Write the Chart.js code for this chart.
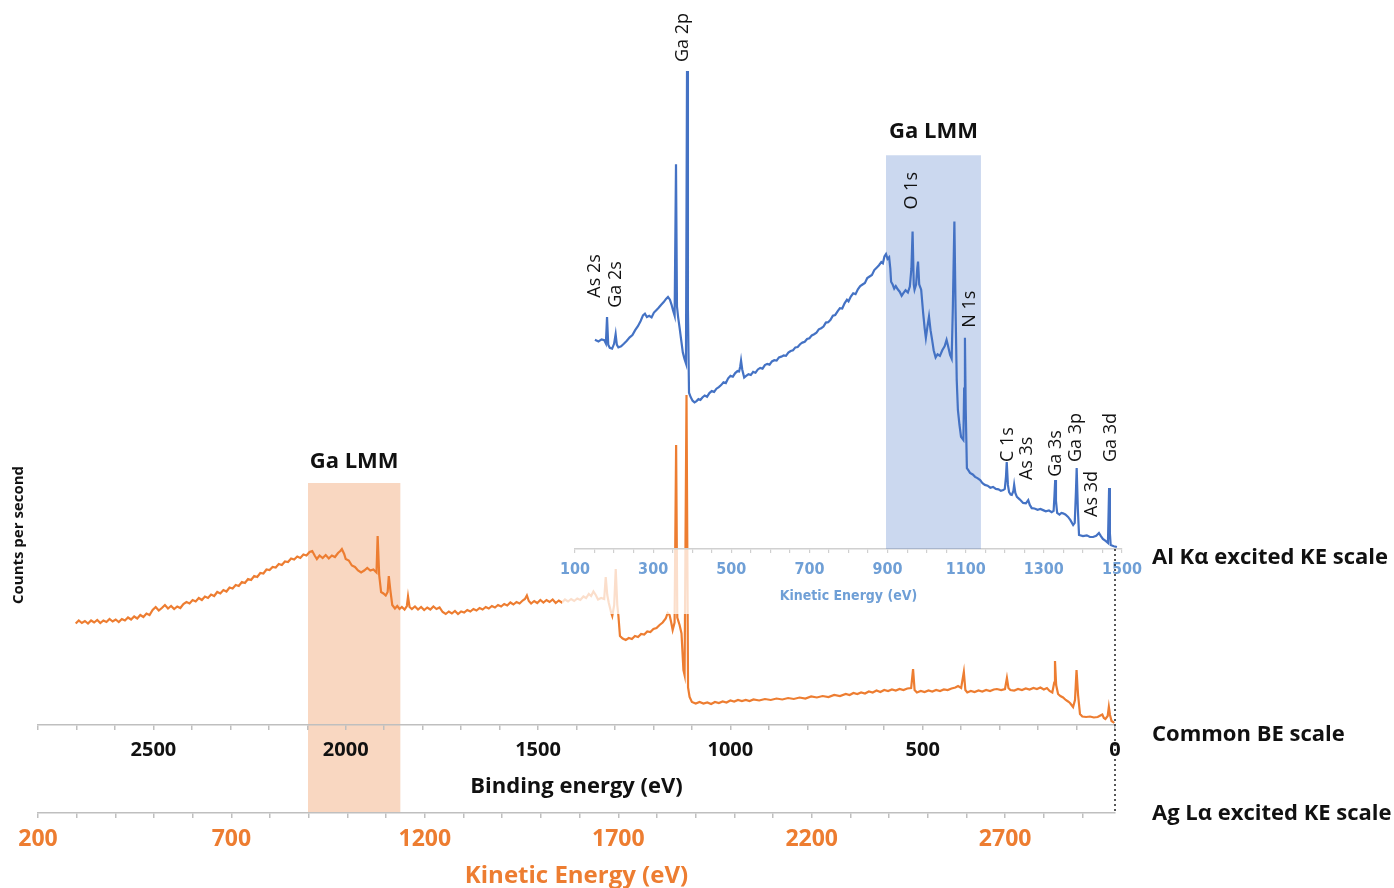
<!DOCTYPE html>
<html>
<head>
<meta charset="utf-8">
<title>XPS survey spectra - Al Ka and Ag La excitation</title>
<script src="https://cdn.jsdelivr.net/npm/chart.js@4.4.1/dist/chart.umd.min.js"></script>
<style>
  body { margin: 0; background: #fff; }
  #wrap { position: relative; width: 1394px; height: 888px; }
  #wrap canvas { position: absolute; left: 0; top: 0; }
</style>
</head>
<body>
<div id="wrap">
  <canvas id="agChart" width="1394" height="888"></canvas>
  <canvas id="alChart" width="1394" height="888"></canvas>
</div>
<script>
// Ag La excited spectrum, on the common binding energy scale (counts, arb. units)
const agBindingEnergy = [2702, 2694, 2686, 2678, 2670, 2662, 2654, 2646, 2638, 2630, 2622, 2614, 2606, 2598, 2590,
    2582, 2574, 2566, 2558, 2550, 2542, 2534, 2526, 2518, 2510, 2502, 2494, 2486, 2478, 2470, 2462, 2454, 2446,
    2438, 2430, 2422, 2414, 2406, 2398, 2390, 2382, 2374, 2366, 2358, 2350, 2342, 2334, 2326, 2318, 2310, 2302,
    2294, 2286, 2278, 2270, 2262, 2254, 2246, 2238, 2230, 2222, 2214, 2206, 2198, 2190, 2182, 2174, 2166, 2158,
    2150, 2142, 2134, 2126, 2118, 2110, 2102, 2094, 2087, 2080, 2075, 2068, 2060, 2052, 2044, 2036, 2028, 2020,
    2014, 2010, 2004, 2000, 1992, 1984, 1976, 1968, 1960, 1952, 1944, 1936, 1928, 1920, 1917, 1913, 1908, 1902,
    1896, 1891, 1888, 1884, 1879, 1872, 1866, 1860, 1854, 1847, 1841, 1838, 1834, 1828, 1820, 1812, 1804, 1796,
    1788, 1780, 1772, 1764, 1756, 1748, 1740, 1732, 1724, 1716, 1708, 1700, 1692, 1684, 1676, 1668, 1660, 1652,
    1644, 1636, 1628, 1620, 1612, 1604, 1596, 1588, 1580, 1572, 1564, 1556, 1548, 1540, 1534, 1529, 1524, 1518,
    1510, 1502, 1494, 1486, 1478, 1470, 1462, 1454, 1446, 1438, 1430, 1422, 1414, 1406, 1398, 1390, 1382, 1375,
    1368, 1362, 1356, 1350, 1344, 1336, 1328, 1324, 1320, 1316, 1310, 1307, 1302, 1298, 1294, 1291, 1287, 1280,
    1272, 1264, 1256, 1248, 1240, 1232, 1224, 1216, 1208, 1200, 1192, 1184, 1176, 1168, 1163, 1158, 1154, 1150,
    1145, 1141, 1138, 1132, 1127, 1122, 1119, 1114, 1110, 1106, 1100, 1090, 1080, 1070, 1060, 1050, 1040, 1030,
    1020, 1010, 1000, 990, 980, 970, 960, 950, 940, 925, 910, 895, 880, 865, 850, 835, 820, 805, 790, 775, 760,
    745, 730, 715, 700, 690, 680, 670, 660, 650, 640, 630, 620, 610, 600, 590, 580, 570, 560, 550, 540, 530, 525,
    521, 515, 505, 495, 485, 475, 465, 455, 445, 435, 425, 415, 408, 400, 393, 389, 384, 375, 365, 355, 345, 335,
    325, 315, 307, 296, 286, 281, 277, 272, 262, 252, 242, 232, 222, 212, 203, 194, 185, 177, 170, 163, 158, 156,
    153, 148, 142, 135, 128, 122, 117, 113, 109, 104, 100, 96, 91, 85, 75, 65, 55, 45, 38, 33, 29, 25, 19, 16,
    13, 9, 5, 2];
const agCounts = [20.3, 20.9, 20.4, 20.8, 20.3, 20.9, 20.5, 21.0, 20.4, 20.9, 20.6, 21.2, 20.7, 21.1, 20.6,
    21.2, 20.9, 21.5, 21.1, 21.7, 21.3, 22.0, 21.6, 22.3, 22.0, 23.0, 23.6, 22.9, 23.4, 24.0, 23.3, 23.8, 23.2,
    23.7, 23.4, 24.2, 24.6, 24.3, 25.0, 24.7, 25.4, 25.0, 25.7, 25.4, 26.1, 25.8, 26.6, 26.3, 27.0, 26.7, 27.5,
    27.3, 28.0, 27.8, 28.6, 28.4, 29.2, 29.0, 29.8, 29.6, 30.4, 30.3, 31.1, 31.0, 31.6, 31.5, 32.2, 32.0, 32.7,
    32.6, 33.3, 33.1, 33.7, 33.4, 34.1, 33.9, 34.6, 34.8, 33.8, 33.2, 33.9, 33.4, 34.0, 33.3, 33.9, 33.6, 34.4,
    34.8, 35.2, 34.2, 33.2, 32.9, 31.9, 31.6, 30.9, 30.5, 30.9, 31.4, 30.9, 31.1, 30.5, 37.8, 30.0, 26.6, 26.3,
    25.9, 26.6, 29.8, 27.0, 24.0, 23.3, 23.8, 23.2, 23.6, 23.1, 23.8, 25.7, 23.6, 23.2, 23.7, 23.1, 23.6, 23.0,
    23.5, 23.1, 23.7, 23.2, 23.5, 22.6, 22.2, 22.7, 22.3, 22.8, 22.2, 22.7, 22.5, 23.0, 22.7, 23.2, 22.9, 23.4,
    23.1, 23.6, 23.3, 23.8, 23.5, 24.0, 23.7, 24.2, 23.9, 24.5, 24.1, 24.6, 24.3, 24.9, 25.2, 25.9, 24.8, 24.3,
    24.8, 24.4, 25.0, 24.5, 25.0, 24.6, 25.1, 24.4, 24.9, 24.5, 25.1, 24.7, 25.2, 24.8, 25.3, 25.0, 25.7, 25.4,
    26.2, 25.8, 26.7, 26.0, 25.1, 25.4, 25.2, 29.6, 26.0, 24.4, 22.5, 21.8, 24.0, 31.2, 24.0, 21.8, 17.8, 17.3,
    17.0, 17.4, 17.2, 17.8, 17.6, 18.2, 18.1, 18.7, 18.6, 19.2, 19.4, 20.0, 20.5, 21.3, 22.4, 22.0, 20.6, 19.0,
    20.5, 56.0, 21.5, 20.0, 18.3, 11.0, 10.0, 66.0, 7.5, 5.6, 4.6, 4.3, 4.6, 4.3, 4.5, 4.2, 4.6, 4.4,
    4.7, 4.5, 4.9, 4.7, 5.0, 4.8, 5.0, 4.8, 5.1, 4.9, 5.2, 5.0, 5.3, 5.1, 5.4, 5.2, 5.5, 5.3, 5.7, 5.5, 5.8,
    5.6, 6.0, 5.8, 6.2, 6.0, 6.4, 6.2, 6.5, 6.3, 6.7, 6.5, 6.9, 6.6, 7.0, 6.8, 7.1, 6.9, 7.2, 7.0, 7.3, 7.4, 11.2,
    7.0, 6.5, 6.8, 6.6, 6.9, 6.7, 7.0, 6.8, 7.1, 7.0, 7.3, 7.5, 7.8, 7.4, 10.6, 7.0, 6.5, 6.8, 6.6, 6.9, 6.7, 7.0,
    6.8, 7.1, 7.2, 7.0, 7.2, 9.4, 7.4, 7.0, 6.9, 7.2, 7.0, 7.3, 7.1, 7.4, 7.2, 7.5, 7.1, 7.4, 6.8, 6.5, 8.5, 12.8,
    8.0, 6.2, 5.8, 5.5, 5.0, 4.7, 4.4, 4.0, 3.6, 5.0, 11.0, 6.0, 2.2, 1.7, 1.6, 1.7, 1.5, 1.6, 1.9, 2.1, 1.4, 1.2, 1.8, 3.6,
    2.0, 0.8, 0.6, 0.4];

// Al Ka excited spectrum, on its own kinetic energy scale (counts, arb. units)
const alKineticEnergy = [151, 160, 168, 175, 179, 182, 185, 189, 195, 200, 204, 207, 211, 218, 225, 232, 240,
    247, 254, 261, 268, 274, 279, 284, 290, 296, 302, 308, 314, 320, 327, 333, 338, 343, 347, 351, 355, 358.5,
    361, 364, 368, 372, 376, 380, 384, 386.7, 389, 391.8, 396, 401, 406, 411, 416, 421, 426, 432, 438, 444, 450,
    456, 462, 468, 474, 480, 486, 492, 498, 504, 510, 516, 520, 523, 525, 528, 533, 538, 544, 550, 556, 562, 568,
    574, 580, 586, 592, 598, 604, 610, 616, 622, 628, 634, 640, 646, 652, 658, 664, 670, 676, 682, 688, 694, 700,
    706, 712, 718, 724, 730, 736, 742, 748, 754, 760, 766, 772, 778, 784, 790, 796, 800, 806, 812, 818, 824, 830,
    836, 842, 848, 854, 860, 866, 872, 878, 884, 888, 892, 896, 900, 904, 907, 909, 913, 917, 921, 926, 931, 936,
    940, 946, 952, 957, 961, 964, 967, 969, 973, 976, 978, 981, 986, 991, 995, 998, 1002, 1006, 1010, 1014, 1018,
    1023, 1028, 1034, 1040, 1046, 1051, 1055, 1060, 1064, 1067, 1071, 1074, 1077, 1080, 1084, 1088, 1094, 1096,
    1098, 1100, 1103, 1107, 1111, 1118, 1124, 1130, 1137, 1143, 1149, 1156, 1163, 1170, 1177, 1184, 1190, 1196,
    1200, 1203, 1205, 1208, 1211, 1215, 1218, 1222, 1224, 1227, 1231, 1238, 1247, 1254, 1260, 1264, 1269, 1276,
    1284, 1291, 1298, 1305, 1313, 1320, 1325, 1327, 1329, 1331, 1334, 1340, 1345, 1349, 1355, 1362, 1368, 1375,
    1379, 1382, 1384, 1387, 1390, 1400, 1410, 1418, 1426, 1434, 1441, 1446, 1451, 1458, 1464, 1467, 1469, 1471,
    1479, 1487];
const alCounts = [52.2, 51.8, 52.3, 52.1, 51.3, 57.9, 51.0, 50.2, 50.0, 51.2, 53.6, 51.0, 50.3, 50.6, 51.2, 51.9, 52.8,
    53.4, 54.6, 55.6, 56.9, 58.3, 58.7, 57.9, 58.2, 57.8, 59.0, 59.6, 60.2, 60.9, 61.6, 62.4, 62.9, 62.2, 61.0, 59.5, 58.2, 96.0,
    60.5, 57.8, 55.0, 52.0, 49.0, 47.5, 46.3, 119.3, 60.0, 39.0, 37.9, 37.0, 36.6, 36.9, 37.4, 37.2, 37.8, 38.3, 38.0, 38.9, 39.4,
    39.2, 40.0, 40.4, 40.9, 41.6, 41.4, 42.6, 43.2, 43.0, 43.9, 44.4, 44.3, 45.6, 47.0, 44.8, 42.8, 43.2, 43.6, 43.4, 44.2, 44.0, 44.8,
    45.2, 45.0, 45.9, 46.2, 46.0, 46.8, 47.1, 47.0, 47.8, 48.0, 48.3, 48.2, 49.0, 49.4, 49.6, 50.3, 50.4, 51.1, 51.5, 51.7, 52.4, 52.6,
    53.3, 53.6, 54.0, 54.8, 55.1, 55.5, 56.5, 56.6, 57.2, 58.2, 58.4, 59.3, 60.1, 60.0, 61.3, 62.2, 61.8, 63.0, 63.8, 63.6, 64.8, 65.6,
    66.0, 66.4, 67.6, 68.0, 68.4, 69.6, 70.2, 70.8, 71.6, 71.3, 73.0, 73.6, 72.4, 72.8, 70.0, 66.7, 66.0, 65.0, 65.6, 64.8, 64.2, 63.2,
    63.8, 64.6, 64.0, 65.5, 70.0, 79.2, 66.0, 64.7, 66.0, 70.0, 71.7, 66.0, 64.7, 59.0, 55.0, 52.7, 55.5, 58.0, 54.6, 52.2, 49.6,
    47.8, 48.6, 48.2, 49.6, 50.6, 52.2, 50.6, 48.4, 47.5, 60.0, 81.7, 60.0, 42.2, 34.7, 31.0, 28.0, 27.2, 40.0,
    52.7, 35.0, 20.2, 19.6, 19.0, 18.6, 18.0, 17.7, 17.2, 16.4, 16.0, 15.8, 15.3, 15.5, 15.0, 14.9, 14.5, 14.7,
    15.0, 18.0, 21.7, 16.0, 14.2, 13.6, 13.5, 14.5, 16.0, 14.0, 13.0, 12.4, 11.5, 11.4, 12.2, 11.0, 10.2, 10.1,
    9.8, 10.0, 9.7, 9.4, 9.6, 9.2, 9.5, 13.0, 17.2, 12.0, 9.0, 8.6, 9.0, 8.9, 8.6, 8.0, 7.2, 6.0,
    6.5, 14.0, 20.2, 10.0, 3.5, 3.2, 3.4, 3.0, 3.0, 3.3, 4.0, 3.2, 2.5, 2.0, 1.5, 15.2, 4.0, 1.0,
    0.7, 0.5];

// peak assignments of the Al Ka spectrum (KE and label height)
const alPeakNames = ['As 2s', 'Ga 2s', 'Ga 2p', 'O 1s', 'N 1s', 'C 1s', 'As 3s', 'Ga 3s', 'Ga 3p', 'As 3d', 'Ga 3d'];
const alPeakKE = [152, 204, 376, 961, 1110, 1208, 1257, 1331, 1382, 1423, 1472];
const alPeakLabelCounts = [62.7, 60.2, 121.5, 84.7, 55.2, 21.7, 17.2, 18, 21.7, 8, 21.7];

// Ga LMM Auger windows
const agLmmBE = [2098, 1858];
const alLmmKE = [896, 1139];

// tick labels
const beTickLabels = [0, 500, 1000, 1500, 2000, 2500];
const agTickLabels = [200, 700, 1200, 1700, 2200, 2700];
const alTickLabels = [100, 300, 500, 700, 900, 1100, 1300, 1500];

const AG_LA = 2984; // Ag La photon energy, eV

const ORANGE = '#ED7D31';
const BLUE = '#4472C4';
const AXIS_GREY = '#bfbfbf';
const LIGHT_BLUE = '#6f9fd6';
const FONT = "'Open Sans', 'DejaVu Sans', sans-serif";
const NARROW = "'Liberation Sans Narrow', 'Arial Narrow', 'DejaVu Sans Condensed', sans-serif";

const toPoints = (xs, ys) => xs.map((x, i) => ({ x: x, y: ys[i] }));

// Ga LMM band + side labels for the Ag La chart
const agDecorations = {
    id: 'agDecorations',
    beforeDraw(chart) {
        const { ctx, scales } = chart;
        const x1 = scales.be.getPixelForValue(agLmmBE[0]);
        const x2 = scales.be.getPixelForValue(agLmmBE[1]);
        const top = scales.y.getPixelForValue(48.4);
        ctx.save();
        ctx.fillStyle = 'rgba(244, 176, 132, 0.5)';
        ctx.fillRect(x1, top, x2 - x1, scales.ke.top - top);
        ctx.restore();
    },
    afterDraw(chart) {
        const { ctx, scales, chartArea } = chart;
        ctx.save();
        ctx.fillStyle = '#111';
        ctx.textBaseline = 'middle';
        ctx.textAlign = 'center';
        ctx.font = `bold 22px ${FONT}`;
        ctx.fillText('Ga LMM', scales.be.getPixelForValue((agLmmBE[0] + agLmmBE[1]) / 2), scales.y.getPixelForValue(52.6));

        ctx.textAlign = 'left';
        ctx.font = `bold 22px ${FONT}`;
        ctx.fillText('Common BE scale', chartArea.right + 37, scales.be.top + 10);
        ctx.fillText('Ag L\u03b1 excited KE scale', chartArea.right + 37, scales.ke.top + 1);
        ctx.restore();
    }
};

const agChart = new Chart(document.getElementById('agChart'), {
    type: 'line',
    data: {
        datasets: [{
            label: 'Ag L\u03b1',
            data: toPoints(agBindingEnergy, agCounts),
            xAxisID: 'be',
            yAxisID: 'y',
            borderColor: ORANGE,
            borderWidth: 2.2,
            pointRadius: 0,
            tension: 0
        }]
    },
    options: {
        responsive: false,
        animation: false,
        layout: { padding: { left: 0, top: 345, right: 279, bottom: 0 } },
        plugins: { legend: { display: false }, tooltip: { enabled: false } },
        scales: {
            be: {
                type: 'linear',
                position: 'bottom',
                reverse: true,
                min: 0,
                max: 2800,
                weight: 0,
                afterFit: (scale) => { scale.height = 88; },
                grid: { drawOnChartArea: false, tickLength: 5, color: AXIS_GREY, lineWidth: 1.5 },
                border: { display: true, color: AXIS_GREY, width: 1.5 },
                ticks: {
                    stepSize: 100,
                    autoSkip: false,
                    maxRotation: 0,
                    minRotation: 0,
                    padding: 8,
                    color: '#111',
                    font: { family: FONT, size: 20, weight: 'bold' },
                    callback: (v) => beTickLabels.includes(v) ? v : ''
                },
                title: {
                    display: true,
                    text: 'Binding energy (eV)',
                    color: '#111',
                    font: { family: FONT, size: 22, weight: 'bold' },
                    padding: { top: 0, bottom: 13 }
                }
            },
            ke: {
                type: 'linear',
                position: 'bottom',
                min: 200,
                max: AG_LA,
                weight: 1,
                afterFit: (scale) => { scale.height = 75; },
                grid: { drawOnChartArea: false, tickLength: 5, color: AXIS_GREY, lineWidth: 1.5 },
                border: { display: true, color: AXIS_GREY, width: 1.5 },
                ticks: {
                    stepSize: 100,
                    includeBounds: false,
                    autoSkip: false,
                    maxRotation: 0,
                    minRotation: 0,
                    padding: 8,
                    color: ORANGE,
                    font: { family: FONT, size: 23, weight: 'bold' },
                    callback: (v) => agTickLabels.includes(v) ? v : ''
                },
                title: {
                    display: true,
                    text: 'Kinetic Energy (eV)',
                    color: ORANGE,
                    font: { family: FONT, size: 24, weight: 'bold', lineHeight: 1 },
                    padding: { top: 0, bottom: 0 }
                }
            },
            y: {
                type: 'linear',
                position: 'left',
                min: 0,
                max: 76,
                afterFit: (scale) => { scale.width = 38; },
                grid: { display: false },
                border: { display: false },
                ticks: { display: false },
                title: {
                    display: true,
                    text: 'Counts per second',
                    color: '#111',
                    font: { family: FONT, size: 15, weight: 'bold' },
                    padding: { top: 10, bottom: 0 }
                }
            }
        }
    },
    plugins: [agDecorations]
});

// Al Ka inset: faded axis background, LMM band, peak labels, dotted 0 eV line
const alDecorations = {
    id: 'alDecorations',
    beforeDraw(chart) {
        const x = chart.scales.x;
        const ctx = chart.ctx;
        ctx.save();
        ctx.fillStyle = 'rgba(255, 255, 255, 0.75)';
        ctx.fillRect(x.left - 13, x.top, x.width + 26, x.height);
        ctx.restore();
    },
    beforeDatasetsDraw(chart) {
        const { ctx, scales, chartArea } = chart;
        const x1 = scales.x.getPixelForValue(alLmmKE[0]);
        const x2 = scales.x.getPixelForValue(alLmmKE[1]);
        const top = scales.y.getPixelForValue(98.25);
        ctx.save();
        ctx.fillStyle = 'rgba(68, 114, 196, 0.28)';
        ctx.fillRect(x1, top, x2 - x1, chartArea.bottom - top);
        ctx.restore();
    },
    afterDatasetsDraw(chart) {
        const { ctx, scales } = chart;
        ctx.save();
        ctx.fillStyle = '#111';
        ctx.font = `18px ${FONT}`;
        ctx.textAlign = 'left';
        ctx.textBaseline = 'middle';
        alPeakNames.forEach((name, i) => {
            ctx.save();
            ctx.translate(scales.x.getPixelForValue(alPeakKE[i]), scales.y.getPixelForValue(alPeakLabelCounts[i]));
            ctx.rotate(-Math.PI / 2);
            ctx.fillText(name, 0, 0);
            ctx.restore();
        });
        ctx.textAlign = 'center';
        ctx.font = `bold 22px ${FONT}`;
        ctx.fillText('Ga LMM', scales.x.getPixelForValue((alLmmKE[0] + alLmmKE[1]) / 2), scales.y.getPixelForValue(104));
        ctx.restore();
    },
    afterDraw(chart) {
        const { ctx, scales, chartArea } = chart;
        const zeroX = agChart.scales.be.getPixelForValue(0);
        ctx.save();
        ctx.strokeStyle = '#222';
        ctx.lineWidth = 1.5;
        ctx.setLineDash([2, 3]);
        ctx.beginPath();
        ctx.moveTo(zeroX, chartArea.bottom);
        ctx.lineTo(zeroX, agChart.scales.ke.top);
        ctx.stroke();
        ctx.setLineDash([]);
        ctx.fillStyle = '#111';
        ctx.font = `bold 22px ${FONT}`;
        ctx.textAlign = 'left';
        ctx.textBaseline = 'middle';
        ctx.fillText('Al K\u03b1 excited KE scale', agChart.chartArea.right + 37, scales.x.top + 9);
        ctx.restore();
    }
};

const alChart = new Chart(document.getElementById('alChart'), {
    type: 'line',
    data: {
        datasets: [{
            label: 'Al K\u03b1',
            data: toPoints(alKineticEnergy, alCounts),
            xAxisID: 'x',
            yAxisID: 'y',
            borderColor: BLUE,
            borderWidth: 2.2,
            pointRadius: 0,
            tension: 0
        }]
    },
    options: {
        responsive: false,
        animation: false,
        layout: { padding: { left: 575, top: 20, right: 272, bottom: 274 } },
        plugins: { legend: { display: false }, tooltip: { enabled: false } },
        scales: {
            x: {
                type: 'linear',
                position: 'bottom',
                min: 100,
                max: 1500,
                afterFit: (scale) => { scale.height = 65; },
                grid: { drawOnChartArea: false, tickLength: 4, color: '#d0d0d0', lineWidth: 1.2 },
                border: { display: true, color: '#d0d0d0', width: 1.5 },
                ticks: {
                    stepSize: 50,
                    autoSkip: false,
                    maxRotation: 0,
                    minRotation: 0,
                    padding: 7,
                    color: LIGHT_BLUE,
                    font: { family: NARROW, size: 16, weight: 'bold' },
                    callback: (v) => alTickLabels.includes(v) ? v : ''
                },
                title: {
                    display: true,
                    text: 'Kinetic Energy (eV)',
                    color: LIGHT_BLUE,
                    font: { family: NARROW, size: 14, weight: 'bold' },
                    padding: { top: 0, bottom: 9 }
                }
            },
            y: { type: 'linear', display: false, min: 0, max: 132 }
        }
    },
    plugins: [alDecorations]
});
</script>
</body>
</html>
